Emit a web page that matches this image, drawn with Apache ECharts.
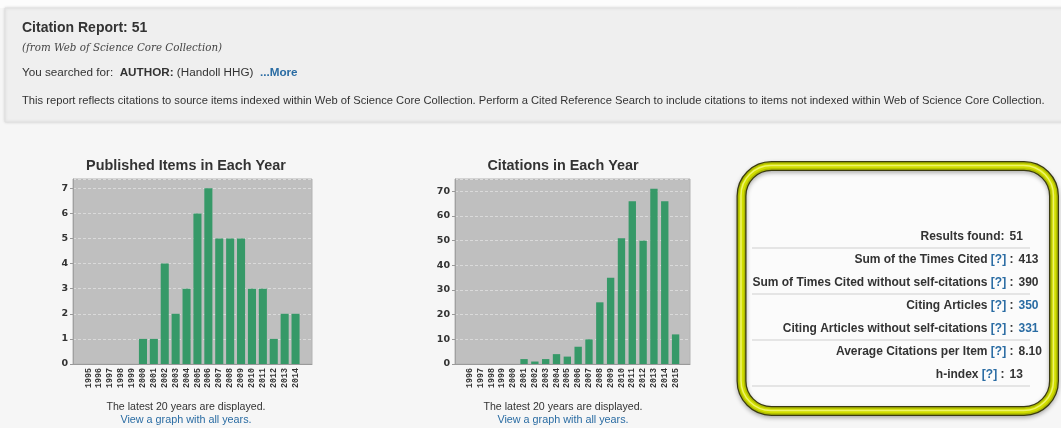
<!DOCTYPE html>
<html><head><meta charset="utf-8">
<script src="https://cdn.jsdelivr.net/npm/echarts@6/dist/echarts.min.js"></script>
<style>html,body{margin:0;padding:0;background:#f6f6f6;}#c{width:1061px;height:428px;}</style>
</head><body><div id="c"></div>
<script>
// ---- data ----
const pubYears = ['1995','1996','1997','1998','1999','2000','2001','2002','2003','2004','2005','2006','2007','2008','2009','2010','2011','2012','2013','2014'];
const pubCounts = [0,0,0,0,0,1,1,4,2,3,6,7,5,5,5,3,3,1,2,2];
const citeYears = ['1996','1997','1998','1999','2000','2001','2002','2003','2004','2005','2006','2007','2008','2009','2010','2011','2012','2013','2014','2015'];
const citeCounts = [0,0,0,0,0,2,1,2,4,3,7,10,25,35,51,66,50,71,66,12];
const pubAxis = {min:0, max:7.37, interval:1};
const citeAxis = {min:0, max:75, interval:10};
const statLabels = ['Results found','Sum of the Times Cited','Sum of Times Cited without self-citations','Citing Articles','Citing Articles without self-citations','Average Citations per Item','h-index'];
const statValues = ['51','413','390','350','331','8.10','13'];
const statHelp = [false,true,true,true,true,true,true];
const statLinked = [false,false,false,true,true,false,false];
const reportCount = '51';
const searchQuery = '(Handoll HHG)';

// ---- styles ----
const SANS = '"Liberation Sans", Arial, sans-serif';
const BLUE = '#2a6ca3';
const GREEN = '#369968';
const PLOT_BG = '#bfbfbf';

const chart = echarts.init(document.getElementById('c'), null, {renderer:'canvas'});

function bgGrid(left, width) {
  return {left:left, top:179, width:width, height:185, show:true, backgroundColor:PLOT_BG, borderColor:'#b2b2b2', borderWidth:1, containLabel:false};
}
function fgGrid(left, width) {
  return {left:left, top:179, width:width, height:185, show:false, containLabel:false};
}
function bgYAxis(gi, ax) {
  return {type:'value', gridIndex:gi, min:ax.min, max:ax.max, interval:ax.interval,
    axisLabel:{showMaxLabel:false, fontFamily:'"DejaVu Sans", Verdana, sans-serif', fontWeight:'bold', fontSize:9.5, color:'#333', margin:5},
    axisLine:{show:true, lineStyle:{color:'#a0a0a0'}},
    axisTick:{show:true, length:3, lineStyle:{color:'#999'}},
    splitLine:{show:true, lineStyle:{color:'#dadada', type:[3,2], width:1}}};
}
function bgXAxis(gi) {
  return {type:'value', gridIndex:gi, min:0, max:1, axisLabel:{show:false}, axisTick:{show:false}, splitLine:{show:false},
    axisLine:{show:true, lineStyle:{color:'#9a9a9a'}}};
}
function fgXAxis(gi, cats) {
  return {type:'category', gridIndex:gi, data:cats, axisLine:{show:false}, axisTick:{show:false},
    axisLabel:{interval:0, rotate:90, margin:4, fontFamily:'"Liberation Mono", monospace', fontWeight:'bold', fontSize:8.3, color:'#333'}};
}
function fgYAxis(gi, ax) {
  return {type:'value', gridIndex:gi, min:ax.min, max:ax.max, show:false, splitLine:{show:false}};
}

// stats panel texts
const statEls = [];
const rowY0 = 237, rowStep = 23;
statLabels.forEach((lab, i) => {
  const y = rowY0 + i * rowStep;
  const shortRow = (i === 0 || i === statLabels.length - 1);
  const colonX = shortRow ? 1004.5 : 1013.5;
  const txt = statHelp[i] ? '{l|' + lab + ' }{h|[?]}{l| :}' : '{l|' + lab + ':}';
  statEls.push({type:'text', x:colonX, y:y, z:20, style:{text:txt, align:'right', verticalAlign:'middle',
    rich:{l:{font:'bold 12px ' + SANS, fill:'#333'}, h:{font:'bold 12px ' + SANS, fill:BLUE}}}});
  statEls.push({type:'text', x:colonX + 5, y:y, z:20, style:{text:statValues[i], align:'left', verticalAlign:'middle',
    font:'bold 12px ' + SANS, fill: statLinked[i] ? BLUE : '#333'}});
  if (i === 0 || i === 2 || i === 4 || i === 6) {
    statEls.push({type:'line', z:20, shape:{x1:752, y1:y + 11, x2:1030, y2:y + 11}, style:{stroke:'#cfcfcf', lineWidth:1}});
  }
});

const frame = [
  {type:'rect', z:10, shape:{x:741.5, y:166, width:312.5, height:245, r:30}, style:{fill:'#fbfbfb', stroke:'#3a3a10', lineWidth:10, shadowBlur:4, shadowColor:'rgba(0,0,0,0.3)', shadowOffsetY:2}},
  {type:'rect', z:11, shape:{x:741.5, y:166, width:312.5, height:245, r:30}, style:{fill:'none', stroke:'#aebb00', lineWidth:7.5}},
  {type:'rect', z:12, shape:{x:741.5, y:166, width:312.5, height:245, r:30}, style:{fill:'none', stroke:'#d2de00', lineWidth:4.5}},
  {type:'rect', z:13, shape:{x:741, y:165.5, width:312.5, height:245, r:30}, style:{fill:'none', stroke:'#eef46a', lineWidth:1.5}}
];

const header = [
  {type:'rect', z:0, shape:{x:0, y:0, width:1061, height:8}, style:{fill:'#fcfcfc'}},
  {type:'rect', z:1, shape:{x:5, y:8, width:1060, height:114}, style:{fill:'#efefef', stroke:'#e0e0e0', lineWidth:1, shadowBlur:3, shadowColor:'rgba(0,0,0,0.12)'}},
  {type:'text', z:5, x:22, y:28, style:{text:'Citation Report: ' + reportCount, font:'bold 14px ' + SANS, fill:'#333', verticalAlign:'middle'}},
  {type:'text', z:5, x:22, y:48, style:{text:'(from Web of Science Core Collection)', font:'italic 10.3px "DejaVu Serif", Georgia, serif', fill:'#444', verticalAlign:'middle'}},
  {type:'text', z:5, x:22, y:73, style:{text:'{n|You searched for:  }{b|AUTHOR:}{n| ' + searchQuery + '  }{m|...More}', verticalAlign:'middle',
    rich:{n:{font:'11.7px ' + SANS, fill:'#333'}, b:{font:'bold 11.7px ' + SANS, fill:'#333'}, m:{font:'bold 11.7px ' + SANS, fill:BLUE}}}},
  {type:'text', z:5, x:22, y:101, style:{text:'This report reflects citations to source items indexed within Web of Science Core Collection. Perform a Cited Reference Search to include citations to items not indexed within Web of Science Core Collection.', font:'11.2px ' + SANS, fill:'#333', verticalAlign:'middle'}}
];

function chartTexts(cx, title) {
  return [
    {type:'text', z:5, x:cx, y:166, style:{text:title, font:'bold 14.4px ' + SANS, fill:'#333', align:'center', verticalAlign:'middle'}},
    {type:'text', z:5, x:cx, y:407, style:{text:'The latest 20 years are displayed.', font:'10.6px ' + SANS, fill:'#333', align:'center', verticalAlign:'middle'}},
    {type:'text', z:5, x:cx, y:420, style:{text:'View a graph with all years.', font:'10.8px ' + SANS, fill:BLUE, align:'center', verticalAlign:'middle'}}
  ];
}

const option = {
  animation:false,
  backgroundColor:'#f6f6f6',
  graphic:{elements:[].concat(header, chartTexts(186, 'Published Items in Each Year'), chartTexts(563, 'Citations in Each Year'), frame, statEls)},
  grid:[bgGrid(73, 239), fgGrid(83, 218), bgGrid(455, 235), fgGrid(464.5, 216.5)],
  xAxis:[bgXAxis(0), fgXAxis(1, pubYears), bgXAxis(2), fgXAxis(3, citeYears)],
  yAxis:[bgYAxis(0, pubAxis), fgYAxis(1, pubAxis), bgYAxis(2, citeAxis), fgYAxis(3, citeAxis)],
  series:[
    {type:'bar', xAxisIndex:1, yAxisIndex:1, data:pubCounts, barCategoryGap:'26%', itemStyle:{color:GREEN}, z:5},
    {type:'bar', xAxisIndex:3, yAxisIndex:3, data:citeCounts, barCategoryGap:'32%', itemStyle:{color:GREEN}, z:5}
  ]
};
chart.setOption(option);
</script>
</body></html>
